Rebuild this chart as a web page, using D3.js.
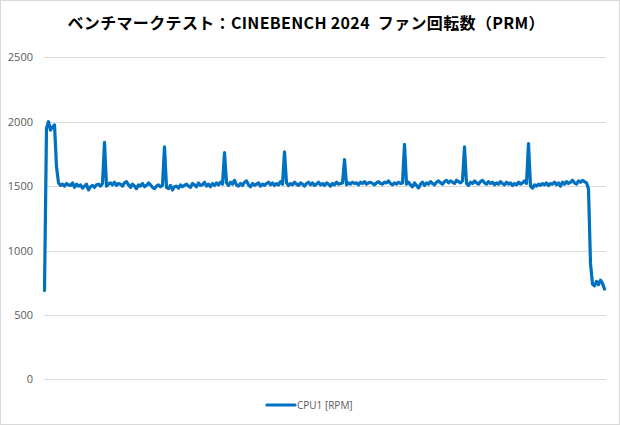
<!DOCTYPE html>
<html><head><meta charset="utf-8">
<script src="https://cdn.jsdelivr.net/npm/d3@7"></script>
<style>html,body{margin:0;padding:0;background:#fff;}svg{display:block;}</style>
</head><body>
<script>
const titleText = "ベンチマークテスト：CINEBENCH 2024\u00a0\u00a0ファン回転数（PRM）";
const seriesName = "CPU1 [RPM]";
const yTicks = [0, 500, 1000, 1500, 2000, 2500];
const rpm = [
  690,1950,2000,1935,1960,1975,1650,1525,1505,1515,1500,1520,1510,1505,1525,1490,1515,1500,1510,1485,
  1500,1515,1470,1495,1505,1490,1510,1515,1500,1520,1840,1500,1515,1525,1510,1530,1505,1520,1515,1500,
  1525,1535,1510,1490,1515,1500,1480,1510,1500,1520,1495,1505,1525,1510,1490,1480,1500,1510,1495,1505,
  1805,1490,1480,1505,1470,1495,1500,1485,1510,1495,1505,1515,1500,1490,1520,1510,1495,1525,1505,1510,
  1530,1500,1515,1495,1520,1505,1525,1510,1530,1515,1760,1525,1505,1530,1515,1545,1510,1500,1520,1505,
  1530,1540,1510,1495,1520,1505,1515,1525,1500,1515,1505,1520,1530,1510,1525,1505,1520,1510,1535,1515,
  1765,1525,1505,1520,1510,1530,1515,1505,1525,1515,1500,1520,1530,1510,1525,1505,1515,1530,1510,1520,
  1505,1525,1515,1500,1520,1510,1530,1515,1520,1525,1705,1510,1525,1515,1530,1520,1525,1510,1530,1520,
  1535,1515,1525,1530,1520,1510,1525,1535,1520,1515,1530,1525,1540,1520,1510,1525,1515,1530,1520,1525,
  1825,1515,1530,1510,1495,1525,1505,1485,1515,1530,1505,1525,1515,1535,1520,1510,1530,1540,1525,1515,
  1535,1545,1525,1540,1530,1520,1545,1535,1525,1540,1805,1520,1505,1530,1520,1540,1525,1515,1535,1545,
  1525,1515,1535,1520,1530,1510,1525,1515,1535,1520,1510,1530,1515,1525,1505,1520,1510,1530,1515,1525,
  1540,1520,1830,1500,1485,1510,1500,1515,1505,1520,1510,1525,1505,1520,1515,1530,1510,1525,1500,1530,
  1515,1535,1520,1530,1545,1525,1515,1540,1530,1545,1535,1525,1480,900,740,725,760,735,770,745,
  700
];

const W = 620, H = 425;
const svg = d3.select("body").append("svg").attr("width", W).attr("height", H);

svg.append("rect").attr("x", 0.5).attr("y", 0.5).attr("width", W - 1).attr("height", H - 1)
  .attr("fill", "#fff").attr("stroke", "#d9d9d9");

const x = d3.scaleLinear().domain([0, rpm.length - 1]).range([44.5, 604.5]);
const y = d3.scaleLinear().domain([0, 2500]).range([379.3, 57.3]);

const gridX0 = 44, gridX1 = 606;
const yAxis = d3.axisLeft(y).tickValues(yTicks).tickFormat(d3.format("d")).tickSize(0).tickPadding(11);
const ga = svg.append("g").attr("transform", `translate(${gridX0},0)`).call(yAxis);
ga.select(".domain").remove();
ga.selectAll("text").attr("fill", "#595959").attr("font-family", "'Open Sans', 'Liberation Sans', sans-serif").attr("font-size", "11px");

svg.append("g").selectAll("line").data(yTicks).join("line")
  .attr("x1", gridX0).attr("x2", gridX1)
  .attr("y1", d => Math.round(y(d)) + 0.5).attr("y2", d => Math.round(y(d)) + 0.5)
  .attr("stroke", "#d9d9d9").attr("stroke-width", 1);

const line = d3.line().x((d, i) => x(i)).y(d => y(d));
svg.append("path").datum(rpm).attr("d", line)
  .attr("fill", "none").attr("stroke", "#0070C0").attr("stroke-width", 3.2)
  .attr("stroke-linejoin", "round").attr("stroke-linecap", "round");

svg.append("text").attr("x", 306).attr("y", 29).attr("text-anchor", "middle")
  .attr("font-family", "'Noto Sans CJK JP', sans-serif").attr("font-weight", "bold")
  .attr("font-size", "16px").attr("fill", "#000")
  .attr("textLength", 477).attr("lengthAdjust", "spacing").text(titleText);

const lg = svg.append("g");
lg.append("line").attr("x1", 267).attr("x2", 295).attr("y1", 405).attr("y2", 405)
  .attr("stroke", "#0070C0").attr("stroke-width", 3.2).attr("stroke-linecap", "round");
lg.append("text").attr("x", 297).attr("y", 409).attr("fill", "#595959")
  .attr("font-family", "'Open Sans', 'Liberation Sans', sans-serif").attr("font-size", "10px").text(seriesName);
</script>
</body></html>
